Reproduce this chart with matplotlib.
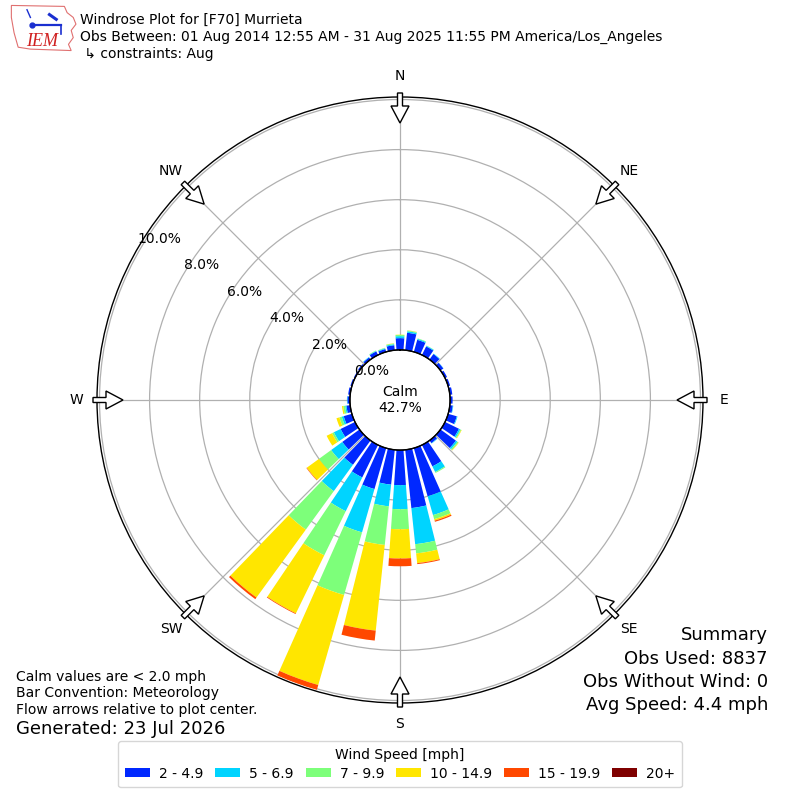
import numpy as np
import matplotlib
matplotlib.use("Agg")
import matplotlib.pyplot as plt
from matplotlib.patches import Patch, FancyArrow, Polygon
import matplotlib.transforms as mtransforms

# ---------------- data ----------------
directions = list(range(0, 360, 10))
speed_labels = ["2 - 4.9", "5 - 6.9", "7 - 9.9", "10 - 14.9", "15 - 19.9", "20+"]
speed_colors = ["#0028ff", "#00d4ff", "#7dff7a", "#ffe600", "#ff4800", "#7f0000"]

# percent of observations per direction (10 deg bins), per speed bin
bin_2_5 = [0.47, 0.70, 0.50, 0.38, 0.27, 0.14, 0.09, 0.08, 0.10, 0.10, 0.12, 0.36,
           0.62, 0.76, 0.13, 0.95, 2.00, 2.34, 1.40, 1.40, 1.70, 1.44, 1.20, 0.85,
           0.64, 0.34, 0.15, 0.10, 0.08, 0.06, 0.05, 0.07, 0.10, 0.16, 0.12, 0.20]
bin_5_7 = [0.08, 0.06, 0.04, 0.03, 0.02, 0.01, 0.00, 0.00, 0.00, 0.00, 0.02, 0.03,
           0.06, 0.07, 0.02, 0.25, 0.78, 1.45, 0.96, 0.87, 1.80, 1.50, 1.30, 0.55,
           0.30, 0.08, 0.05, 0.02, 0.00, 0.00, 0.00, 0.00, 0.02, 0.02, 0.03, 0.04]
bin_7_10 = [0.05, 0.03, 0.02, 0.01, 0.00, 0.00, 0.00, 0.00, 0.00, 0.00, 0.00, 0.00,
            0.04, 0.05, 0.00, 0.04, 0.17, 0.37, 0.80, 1.55, 2.60, 1.96, 1.90, 0.60,
            0.08, 0.10, 0.08, 0.00, 0.00, 0.00, 0.00, 0.00, 0.00, 0.02, 0.02, 0.03]
bin_10_15 = [0.01, 0.01, 0.00, 0.00, 0.00, 0.00, 0.00, 0.00, 0.00, 0.00, 0.00, 0.00,
             0.02, 0.02, 0.00, 0.00, 0.06, 0.39, 1.17, 3.44, 3.74, 2.58, 3.35, 0.60,
             0.24, 0.12, 0.05, 0.00, 0.00, 0.00, 0.00, 0.00, 0.00, 0.00, 0.00, 0.01]
bin_15_20 = [0.00, 0.00, 0.00, 0.00, 0.00, 0.00, 0.00, 0.00, 0.00, 0.00, 0.00, 0.00,
             0.00, 0.00, 0.00, 0.00, 0.05, 0.04, 0.31, 0.40, 0.20, 0.03, 0.08, 0.02,
             0.00, 0.00, 0.00, 0.00, 0.00, 0.00, 0.00, 0.00, 0.00, 0.00, 0.00, 0.00]
bin_20p = [0.00] * 36

ring_values = [0, 2, 4, 6, 8, 10]
compass_labels = ["N", "NE", "E", "SE", "S", "SW", "W", "NW"]
compass_angles = [0, 45, 90, 135, 180, 225, 270, 315]

calm_pct = 42.7
title_lines = ["Windrose Plot for [F70] Murrieta",
               "Obs Between: 01 Aug 2014 12:55 AM - 31 Aug 2025 11:55 PM America/Los_Angeles",
               " \u21b3 constraints: Aug"]
notes = ["Calm values are < 2.0 mph", "Bar Convention: Meteorology",
         "Flow arrows relative to plot center."]
generated = "Generated: 23 Jul 2026"
summary = ["Summary", "Obs Used: 8837", "Obs Without Wind: 0", "Avg Speed: 4.4 mph"]

# ---------------- figure ----------------
plt.rcParams['font.family'] = ['DejaVu Sans']
fig = plt.figure(figsize=(8, 8), dpi=100)
W = H = 800.0

def fy(py):
    return 1 - py / H

R_PX = 303.0
ax = fig.add_axes([(400 - R_PX) / W, (400 - R_PX) / H, 2 * R_PX / W, 2 * R_PX / H],
                  projection='polar')
ax.set_theta_zero_location('N')
ax.set_theta_direction(-1)
ax.set_rorigin(-2)
ax.set_ylim(0, 10.1)

theta = np.deg2rad(directions)
bins = [bin_2_5, bin_5_7, bin_7_10, bin_10_15, bin_15_20, bin_20p]
bottom = np.zeros(len(directions))
for vals, col in zip(bins, speed_colors):
    v = np.array(vals)
    ax.bar(theta, v, width=np.deg2rad(8), bottom=bottom, color=col,
           edgecolor='none', linewidth=0, align='center', zorder=2)
    bottom = bottom + v

ax.set_xticks(np.deg2rad(compass_angles))
ax.set_xticklabels([])
ax.set_yticks(ring_values)
ax.set_yticklabels([])
ax.grid(True, color='#b0b0b0', linewidth=0.9)
ax.spines['polar'].set_color('black')
ax.spines['polar'].set_linewidth(1.0)

# calm circle
tt = np.linspace(0, 2 * np.pi, 361)
ax.plot(tt, np.zeros_like(tt), color='black', lw=1.0, zorder=5, clip_on=False)
ax.text(0.5, 0.5, "Calm\n%.1f%%" % calm_pct, transform=ax.transAxes,
        ha='center', va='center', fontsize=10, linespacing=1.1)

# ring labels
off = mtransforms.ScaledTranslation(14 / 100.0, 2 / 100.0, fig.dpi_scale_trans)
for rv in ring_values:
    ax.text(np.deg2rad(-58.0), rv, "%.1f%%" % rv, transform=ax.transData + off,
            ha='center', va='center', fontsize=10, zorder=6)

# compass labels and arrows
px = 1.0 / (2 * R_PX)  # axes-fraction per pixel
for lab, ang in zip(compass_labels, compass_angles):
    a = np.deg2rad(ang)
    ux, uy = np.sin(a), np.cos(a)
    rl = 324 * px
    ax.text(0.5 + rl * ux, 0.5 + rl * uy, lab, transform=ax.transAxes,
            ha='center', va='center', fontsize=10)
    r0 = 307 * px
    L = 30 * px
    arr = FancyArrow(0.5 + r0 * ux, 0.5 + r0 * uy, -L * ux, -L * uy,
                     width=5 * px, head_width=18 * px, head_length=17 * px,
                     length_includes_head=True, transform=ax.transAxes,
                     facecolor='white', edgecolor='black', linewidth=1.0,
                     clip_on=False, zorder=10)
    ax.add_patch(arr)

# header text
for i, line in enumerate(title_lines):
    fig.text(80 / W, fy(20 + 17 * i), line, fontsize=10, va='center', ha='left')

# logo
lax = fig.add_axes([10 / W, fy(52), 68 / W, 48 / H])
lax.set_xlim(0, 1)
lax.set_ylim(0, 1)
lax.axis('off')
iowa = [(0.02, 0.97), (0.80, 0.95), (0.84, 0.82), (0.93, 0.72), (0.97, 0.58),
        (0.90, 0.45), (0.93, 0.30), (0.86, 0.16), (0.90, 0.03), (0.30, 0.06),
        (0.12, 0.10), (0.06, 0.40), (0.02, 0.72)]
lax.add_patch(Polygon(iowa, closed=True, fill=False, edgecolor='#e07070', lw=0.8))
lax.plot([0.32, 0.75], [0.57, 0.57], color='#1a2fd0', lw=1.6)
lax.plot([0.32], [0.57], 'o', color='#1a2fd0', ms=3.5)
lax.plot([0.58, 0.68], [0.78, 0.68], color='#1a2fd0', lw=2.2)
lax.plot([0.75, 0.75], [0.57, 0.38], color='#1a2fd0', lw=1.2)
lax.plot([0.25, 0.30], [0.88, 0.72], color='#1a2fd0', lw=1.0)
lax.text(0.47, 0.22, "IEM", fontsize=13, color='#d02020', style='italic',
         family=['Liberation Serif', 'DejaVu Serif'], ha='center', va='center')

# footer notes
for i, line in enumerate(notes):
    fig.text(16 / W, fy(677 + 16.5 * i), line, fontsize=10, va='center', ha='left')
fig.text(16 / W, fy(729), generated, fontsize=13, va='center', ha='left')

for i, line in enumerate(summary):
    fig.text(768 / W, fy(635 + 23.5 * i), line, fontsize=13, va='center', ha='right')

# legend
handles = [Patch(facecolor=c, edgecolor='none') for c in speed_colors]
leg = fig.legend(handles, speed_labels, loc='lower center', bbox_to_anchor=(0.5, 0.007),
                 ncol=6, title='Wind Speed [mph]', fontsize=10, title_fontsize=10,
                 frameon=True, fancybox=True, edgecolor='#cccccc', handlelength=1.8,
                 handleheight=0.65, handletextpad=0.65, columnspacing=0.85,
                 borderpad=0.5, labelspacing=0.3)

fig.savefig("out.png", dpi=100, facecolor='white')
